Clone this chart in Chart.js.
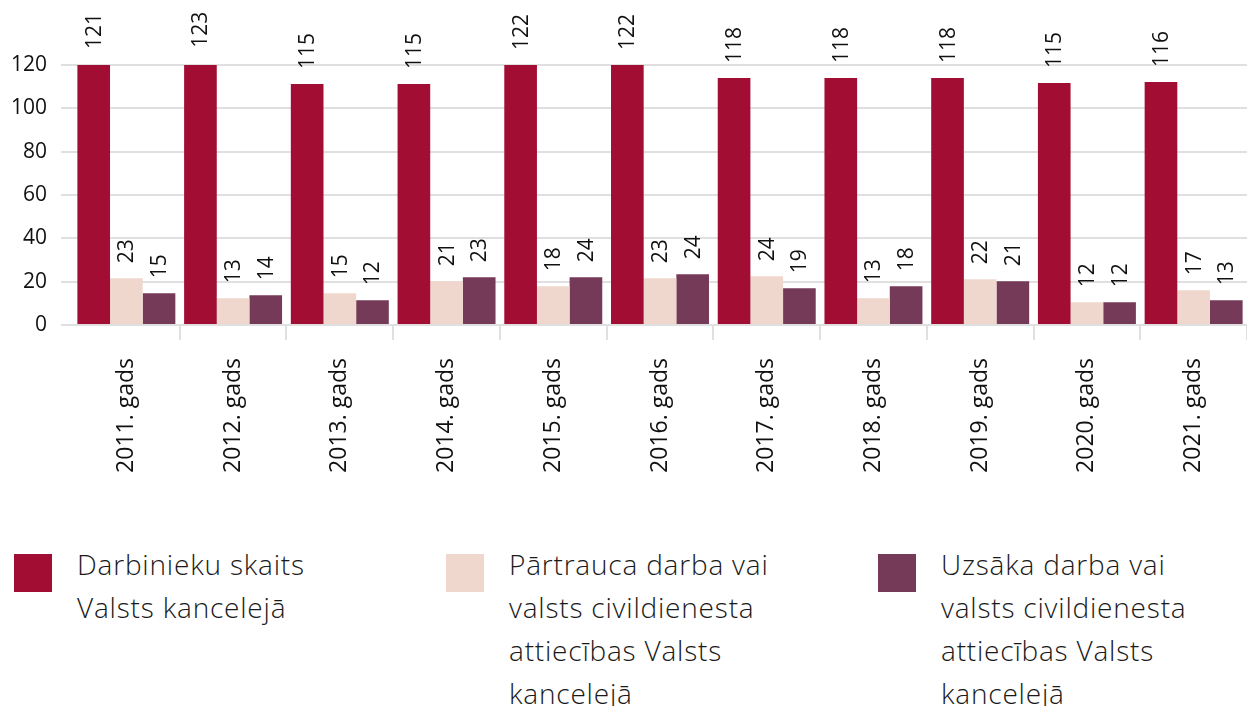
<!DOCTYPE html>
<html>
<head>
<meta charset="utf-8">
<script src="https://cdn.jsdelivr.net/npm/chart.js@4/dist/chart.umd.min.js"></script>
<style>
  html, body { margin: 0; padding: 0; background: #fff; }
  #wrap { position: relative; width: 1247px; height: 706px; overflow: hidden; }
  #chartBox { position: absolute; left: 0; top: 0; width: 1247px; height: 500px; }
  .leg { position: absolute; top: 543px; font-family: "Open Sans", sans-serif; font-size: 28px; letter-spacing: 0.8px; line-height: 43px; color: #1a1a1a; font-weight: 300; }
  .leg .sw { position: absolute; left: 0; top: 11px; width: 38px; height: 38px; }
  .leg .tx { position: absolute; left: 63px; top: 0; white-space: nowrap; }
</style>
</head>
<body>
<div id="wrap">
  <div id="chartBox"><canvas id="c"></canvas></div>
  <div id="legend"></div>
</div>
<script>
const categories = ["2011. gads","2012. gads","2013. gads","2014. gads","2015. gads","2016. gads","2017. gads","2018. gads","2019. gads","2020. gads","2021. gads"];
// bar heights as drawn in the picture
const employees = [120.5, 121, 111.2, 111.2, 120, 120, 114, 114, 114, 111.7, 112.2];
const left      = [21.6, 12.3, 14.7, 20.2, 17.9, 21.6, 22.5, 12.3, 21.1, 10.5, 16];
const started   = [14.7, 13.7, 11.4, 22, 22, 23.4, 17, 17.9, 20.2, 10.5, 11.4];
// value labels printed above the bars
const employeesLabels = ["121","123","115","115","122","122","118","118","118","115","116"];
const leftLabels      = ["23","13","15","21","18","23","24","13","22","12","17"];
const startedLabels   = ["15","14","12","23","24","24","19","18","21","12","13"];
const yTicks = [0, 20, 40, 60, 80, 100, 120];
const seriesNames = [
  ["Darbinieku skaits", "Valsts kancelejā"],
  ["Pārtrauca darba vai", "valsts civildienesta", "attiecības Valsts", "kancelejā"],
  ["Uzsāka darba vai", "valsts civildienesta", "attiecības Valsts", "kancelejā"]
];
const colors = ["#a20e33", "#f0d7ce", "#763a59"];

const FONT = "'Open Sans', sans-serif";

const rotLabels = {
  id: "rotLabels",
  afterDatasetsDraw(chart) {
    const ctx = chart.ctx;
    chart.data.datasets.forEach((ds, di) => {
      const meta = chart.getDatasetMeta(di);
      meta.data.forEach((bar, i) => {
        ctx.save();
        ctx.translate(bar.x, bar.y - 15);
        ctx.rotate(-Math.PI / 2);
        ctx.font = "21px " + FONT;
        ctx.fillStyle = "#111";
        ctx.textAlign = "left";
        ctx.textBaseline = "middle";
        ctx.fillText(ds.valueLabels[i], 0, 1);
        ctx.restore();
      });
    });
  }
};

const chart = new Chart(document.getElementById("c"), {
  type: "bar",
  data: {
    labels: categories,
    datasets: [
      { label: seriesNames[0].join(" "), data: employees, valueLabels: employeesLabels, backgroundColor: colors[0] },
      { label: seriesNames[1].join(" "), data: left, valueLabels: leftLabels, backgroundColor: colors[1] },
      { label: seriesNames[2].join(" "), data: started, valueLabels: startedLabels, backgroundColor: colors[2] }
    ]
  },
  options: {
    responsive: true,
    maintainAspectRatio: false,
    animation: false,
    datasets: { bar: { barPercentage: 1.0, categoryPercentage: 0.918 } },
    layout: { padding: { top: 65, left: 10, right: 0, bottom: 0 } },
    plugins: { legend: { display: false }, tooltip: { enabled: false } },
    scales: {
      x: {
        border: { display: false },
        grid: {
          display: true,
          drawOnChartArea: false,
          drawTicks: true,
          tickLength: 15,
          lineWidth: 2,
          color: (c) => c.index === 0 ? "rgba(0,0,0,0)" : "#e0e0e0"
        },
        ticks: {
          minRotation: 90, maxRotation: 90,
          padding: 18,
          color: "#111",
          font: { family: FONT, size: 23 }
        },
        afterFit(scale) { scale.height = 175; }
      },
      y: {
        min: 0, max: 120,
        border: { display: false },
        grid: { color: "#e0e0e0", lineWidth: 2, tickLength: 12, drawTicks: true },
        afterBuildTicks(scale) { scale.ticks = yTicks.map(v => ({ value: v })); },
        ticks: {
          padding: 14,
          color: "#111",
          font: { family: FONT, size: 21 }
        },
        afterFit(scale) { scale.width = 63; }
      }
    }
  },
  plugins: [rotLabels]
});

// HTML legend built from the datasets
const legendEl = document.getElementById("legend");
const legendX = [14, 446, 878];
chart.data.datasets.forEach((ds, i) => {
  const item = document.createElement("div");
  item.className = "leg";
  item.style.left = legendX[i] + "px";
  const sw = document.createElement("div");
  sw.className = "sw";
  sw.style.background = ds.backgroundColor;
  const tx = document.createElement("div");
  tx.className = "tx";
  tx.innerHTML = seriesNames[i].join("<br>");
  item.appendChild(sw);
  item.appendChild(tx);
  legendEl.appendChild(item);
});
</script>
</body>
</html>
